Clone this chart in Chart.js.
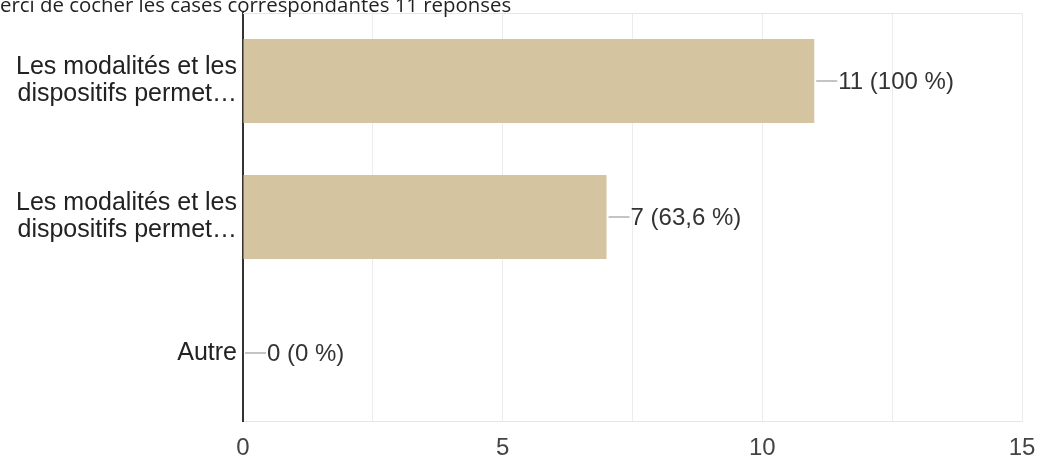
<!DOCTYPE html>
<html>
<head>
<meta charset="utf-8">
<script src="https://cdn.jsdelivr.net/npm/chart.js"></script>
<style>
  html, body { margin: 0; padding: 0; background: #fff; overflow: hidden; }
  #wrap { position: relative; width: 1044px; height: 457px; }
  #title {
    position: absolute; left: 0; top: -10px; white-space: nowrap;
    font-family: 'Open Sans', sans-serif; font-size: 20.4px; color: #222;
  }
</style>
</head>
<body>
<div id="wrap">
  <canvas id="chart" width="1044" height="457"></canvas>
  <div id="title">erci de cocher les cases correspondantes 11 réponses</div>
</div>
<script>
// chart data
const categories = [
  ['Les modalités et les', 'dispositifs permet…'],
  ['Les modalités et les', 'dispositifs permet…'],
  'Autre'
];
const counts = [11, 7, 0];
const pctLabels = ['11 (100 %)', '7 (63,6 %)', '0 (0 %)'];
const xTicks = [0, 5, 10, 15];

const FONT = 'Arial, "Liberation Sans", sans-serif';

// little leader line + value label after each bar
const valueLabels = {
  id: 'valueLabels',
  afterDatasetsDraw(chart) {
    const { ctx, chartArea } = chart;
    const x = chart.scales.x;
    const y = chart.scales.y;
    ctx.save();
    // top frame line
    ctx.strokeStyle = '#e6e6e6';
    ctx.lineWidth = 1;
    ctx.beginPath();
    ctx.moveTo(chartArea.left, chartArea.top + 0.5);
    ctx.lineTo(chartArea.right, chartArea.top + 0.5);
    ctx.stroke();
    counts.forEach((v, i) => {
      const px = x.getPixelForValue(v);
      const py = y.getPixelForValue(i);
      ctx.strokeStyle = '#c4c4c4';
      ctx.lineWidth = 2;
      ctx.beginPath();
      ctx.moveTo(px + 2, py);
      ctx.lineTo(px + 23, py);
      ctx.stroke();
      ctx.fillStyle = '#333';
      ctx.font = '24px ' + FONT;
      ctx.textBaseline = 'middle';
      ctx.fillText(pctLabels[i], px + 24, py + 1);
    });
    ctx.restore();
  }
};

new Chart(document.getElementById('chart'), {
  type: 'bar',
  data: {
    labels: categories,
    datasets: [{
      data: counts,
      backgroundColor: '#d4c4a0',
      borderWidth: 0,
      categoryPercentage: 0.616,
      barPercentage: 1
    }]
  },
  plugins: [valueLabels],
  options: {
    indexAxis: 'y',
    responsive: false,
    animation: false,
    layout: { padding: { top: 13, right: 22, left: 0, bottom: 0 } },
    plugins: { legend: { display: false }, tooltip: { enabled: false } },
    scales: {
      x: {
        min: 0,
        max: 15,
        ticks: {
          stepSize: 2.5,
          color: '#444',
          font: { family: FONT, size: 24 },
          padding: 13,
          callback: (v) => xTicks.includes(v) ? String(v) : ''
        },
        grid: { color: '#ececec', drawTicks: false },
        border: { color: '#e6e6e6', width: 1 },
        afterFit: (s) => { s.height = 36; s.paddingRight = 0; s.paddingLeft = 0; }
      },
      y: {
        ticks: {
          color: '#222',
          font: { family: FONT, size: 25, lineHeight: 1.08 },
          padding: 6
        },
        grid: { display: false, drawTicks: false },
        border: { color: '#333', width: 2 },
        afterFit: (s) => { s.width = 243; s.paddingTop = 0; s.paddingBottom = 0; }
      }
    }
  }
});
</script>
</body>
</html>
